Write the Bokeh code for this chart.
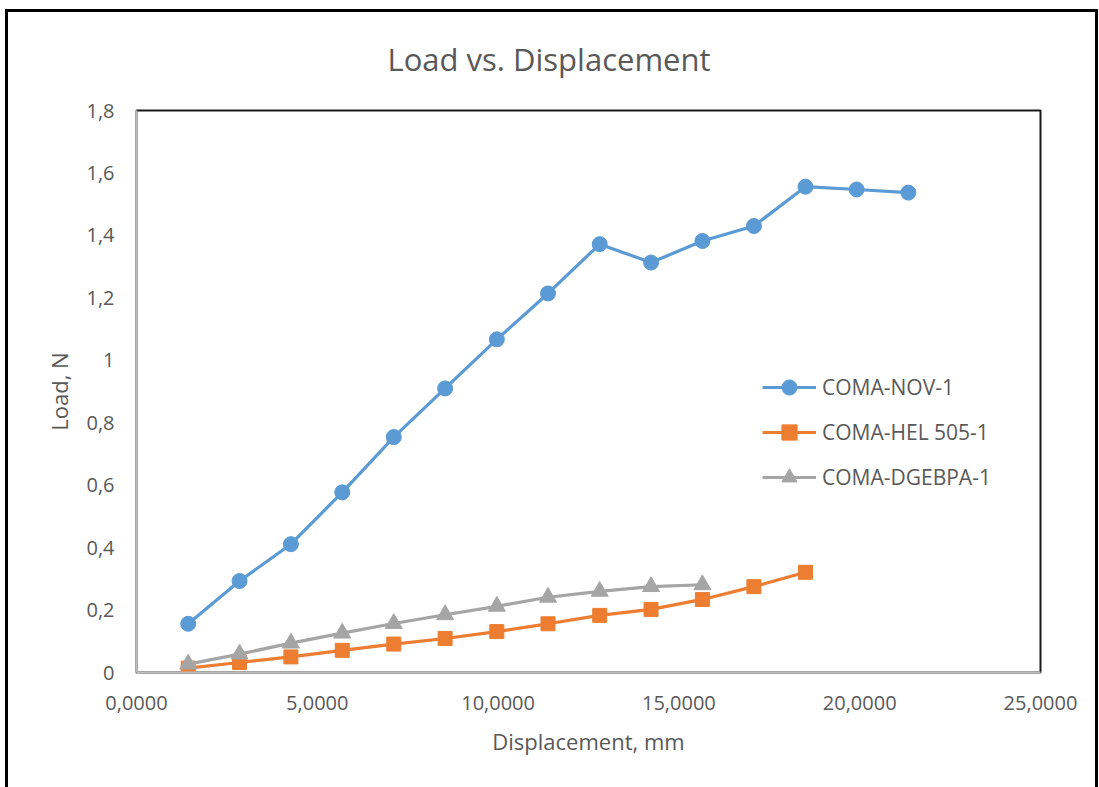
from bokeh.plotting import figure
from bokeh.models import Range1d, FixedTicker, Legend, LegendItem
from bokeh.embed import file_html
from bokeh.resources import INLINE

# ---- data ----
disp = [1430, 2850, 4270, 5690, 7115, 8535, 9965, 11380, 12810, 14230,
        15650, 17075, 18500, 19915, 21345]
load_nov = [0.156, 0.293, 0.411, 0.577, 0.754, 0.910, 1.067, 1.214, 1.372,
            1.313, 1.382, 1.430, 1.556, 1.547, 1.537]
load_hel = [0.014, 0.032, 0.050, 0.071, 0.091, 0.109, 0.131, 0.156, 0.183,
            0.202, 0.234, 0.275, 0.321]
load_dge = [0.027, 0.059, 0.094, 0.126, 0.157, 0.185, 0.212, 0.241, 0.260,
            0.275, 0.281]

series_names = ["COMA-NOV-1", "COMA-HEL 505-1", "COMA-DGEBPA-1"]
series_colors = ["#5B9BD5", "#ED7D31", "#A5A5A5"]

x_ticks = [0, 5000, 10000, 15000, 20000, 25000]
x_tick_labels = ["0,0000", "5,0000", "10,0000", "15,0000", "20,0000", "25,0000"]
y_ticks = [0, 0.2, 0.4, 0.6, 0.8, 1.0, 1.2, 1.4, 1.6, 1.8]
y_tick_labels = ["0", "0,2", "0,4", "0,6", "0,8", "1", "1,2", "1,4", "1,6", "1,8"]

FONT = "Open Sans"
TXT = "#595959"

p = figure(width=1093, height=778, output_backend="svg", toolbar_location=None,
           x_range=Range1d(0, 25000), y_range=Range1d(0, 1.8),
           min_border_left=131, min_border_right=58, min_border_top=101,
           min_border_bottom=115,
           title="Load vs. Displacement")
p.styles = {"margin-left": "5px", "margin-top": "9px",
            "box-shadow": "inset 3px 3px 0 #000000, inset -3px 0 0 #000000"}
p.border_fill_color = None
p.background_fill_color = "white"
p.outline_line_color = "#1a1a1a"
p.outline_line_width = 2

p.title.align = "left"
p.title.vertical_align = "top"
p.title.offset = 251
p.title.text_font = FONT
p.title.text_font_size = "31px"
p.title.text_font_style = "normal"
p.title.text_color = TXT
p.title.standoff = 57

p.grid.visible = False

for ax in (p.xaxis[0], p.yaxis[0]):
    ax.axis_line_color = "#BFBFBF"
    ax.axis_line_width = 2
    ax.major_tick_line_color = None
    ax.minor_tick_line_color = None
    ax.major_tick_out = 0
    ax.major_tick_in = 0
    ax.major_label_text_font = FONT
    ax.major_label_text_font_size = "20px"
    ax.major_label_text_color = TXT
    ax.axis_label_text_font = FONT
    ax.axis_label_text_font_size = "22px"
    ax.axis_label_text_font_style = "normal"
    ax.axis_label_text_color = TXT

p.xaxis.ticker = FixedTicker(ticks=x_ticks)
p.xaxis.major_label_overrides = {t: l for t, l in zip(x_ticks, x_tick_labels)}
p.yaxis.ticker = FixedTicker(ticks=y_ticks)
p.yaxis.major_label_overrides = {t: l for t, l in zip(y_ticks, y_tick_labels)}
p.xaxis.axis_label = "Displacement, mm"
p.yaxis.axis_label = "Load, N"
p.xaxis.major_label_standoff = 23
p.yaxis.major_label_standoff = 22
p.xaxis.axis_label_standoff = 13
p.yaxis.axis_label_standoff = 9

items = []
markers = ["circle", "square", "triangle"]
sizes = [15, 14, 17]
ys = [load_nov, load_hel, load_dge]
for name, col, mk, sz, yv in zip(series_names, series_colors, markers, sizes, ys):
    xv = disp[:len(yv)]
    r1 = p.line(xv, yv, line_color=col, line_width=3.2)
    r2 = p.scatter(xv, yv, marker=mk, size=sz, fill_color=col, line_color=col)
    items.append(LegendItem(label=name, renderers=[r1, r2]))

legend = Legend(items=items, location=(626, 176), padding=0, margin=0,
                border_line_color=None, background_fill_alpha=0,
                label_text_font=FONT, label_text_font_size="21px",
                label_text_color=TXT, glyph_width=54, glyph_height=38,
                label_height=20, spacing=7, label_standoff=6)
p.add_layout(legend)

open("out.html", "w").write(file_html(p, INLINE))
